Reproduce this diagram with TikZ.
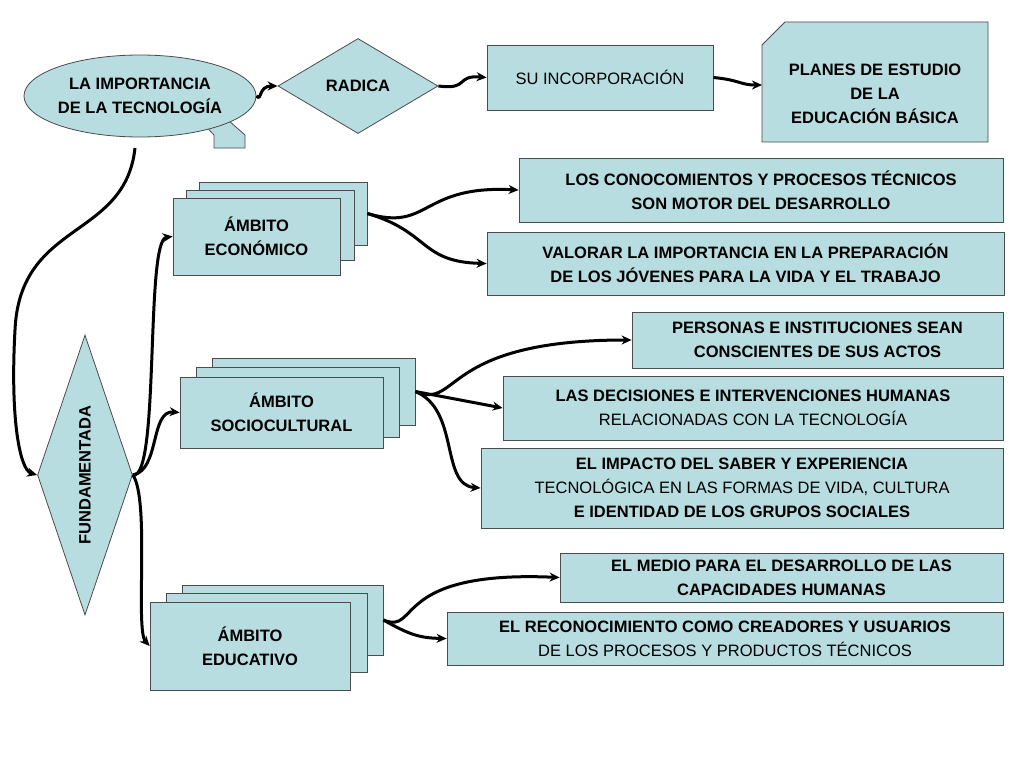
\documentclass[tikz,border=0pt]{standalone}
\usepackage{fontspec}
\setmainfont{Liberation Sans}
\usetikzlibrary{shapes.geometric,arrows.meta}
\definecolor{caja}{HTML}{B7DDE0}
\tikzset{
  caja/.style={draw=black!70,fill=caja,thick,align=center,font=\fontsize{16.5}{24}\selectfont\bfseries,inner sep=0pt},
  flecha/.style={line width=3pt,-{Stealth[length=10pt,width=9pt]}},
}
\newcommand{\rect}[6]{\node[caja,minimum width=#3-#2,minimum height=#5-#4] (#1) at ({(#2+#3)/2},{(#4+#5)/2}) {#6};}
\begin{document}
\begin{tikzpicture}[x=1pt,y=-1pt]
  \useasboundingbox[fill=white] (0,0) rectangle (1024,768);

  % titulo
  \path[caja] (200,120) -- (214,135) -- (214,148) -- (245,148) -- (245,135) -- (228,120) -- cycle;
  \node[caja,ellipse,minimum width=210,minimum height=82] (tec) at (140,96) {LA IMPORTANCIA\\DE LA TECNOLOGÍA};
  \node[caja,diamond,aspect=1.7,minimum width=160,minimum height=95] (radica) at (358,86) {RADICA};
  \rect{incorp}{487}{713}{45}{110}{\mdseries SU INCORPORACIÓN}
  \path[caja] (762,45) -- (785,22) -- (988,22) -- (988,142) -- (762,142) -- cycle;
  \node[align=center,font=\fontsize{16.5}{24}\selectfont\bfseries] (planes) at (875,94) {PLANES DE ESTUDIO\\DE LA\\EDUCACIÓN BÁSICA};
  \coordinate (planesw) at (762,85);

  \node[caja,diamond,aspect=0.34,minimum width=95,minimum height=280] (fund) at (85,475) {};
  \node[rotate=90,font=\fontsize{16.5}{24}\selectfont\bfseries] at (fund) {FUNDAMENTADA};

  % ambitos
  \rect{eco3}{199}{367}{182}{245}{}
  \rect{eco2}{186}{354}{190}{260}{}
  \rect{eco}{173}{340}{198}{275}{ÁMBITO\\ECONÓMICO}
  \rect{soc3}{212}{415}{358}{425}{}
  \rect{soc2}{196}{399}{367}{437}{}
  \rect{soc}{180}{383}{377}{448}{ÁMBITO\\SOCIOCULTURAL}
  \rect{edu3}{182}{383}{585}{655}{}
  \rect{edu2}{166}{367}{593}{672}{}
  \rect{edu}{150}{350}{602}{690}{ÁMBITO\\EDUCATIVO}

  % cajas derecha
  \rect{con}{519}{1003}{158}{222}{LOS CONOCOMIENTOS Y PROCESOS TÉCNICOS\\SON MOTOR DEL DESARROLLO}
  \rect{val}{487}{1004}{232}{295}{VALORAR LA IMPORTANCIA EN LA PREPARACIÓN\\DE LOS JÓVENES PARA LA VIDA Y EL TRABAJO}
  \rect{per}{632}{1003}{312}{368}{PERSONAS E INSTITUCIONES SEAN\\CONSCIENTES DE SUS ACTOS}
  \rect{dec}{503}{1003}{376}{440}{LAS DECISIONES E INTERVENCIONES HUMANAS\\\mdseries RELACIONADAS CON LA TECNOLOGÍA}
  \rect{imp}{481}{1003}{448}{528}{EL IMPACTO DEL SABER Y EXPERIENCIA\\\mdseries TECNOLÓGICA EN LAS FORMAS DE VIDA, CULTURA\\E IDENTIDAD DE LOS GRUPOS SOCIALES}
  \rect{med}{560}{1003}{553}{602}{EL MEDIO PARA EL DESARROLLO DE LAS\\CAPACIDADES HUMANAS}
  \rect{rec}{447}{1003}{612}{665}{EL RECONOCIMIENTO COMO CREADORES Y USUARIOS\\\mdseries DE LOS PROCESOS Y PRODUCTOS TÉCNICOS}

  % conectores
  \draw[flecha] (tec.east) .. controls (262,102) and (258,86) .. (radica.west);
  \draw[flecha] (radica.east) .. controls (470,90) and (455,75) .. (incorp.west);
  \draw[flecha] (incorp.east) .. controls (740,80) and (740,85) .. (planesw);
  \draw[flecha] (135,148) .. controls (125,240) and (20,220) .. (15,330) .. controls (10,420) and (20,470) .. (fund.west);
  \draw[flecha] (fund.east) .. controls (160,480) and (145,240) .. (eco.west);
  \draw[flecha] (fund.east) .. controls (160,470) and (150,410) .. (soc.west);
  \draw[flecha] (fund.east) .. controls (150,500) and (135,630) .. (edu.west);
  \draw[flecha] (eco3.east) .. controls (430,232) and (420,185) .. (con.west);
  \draw[flecha] (eco3.east) .. controls (430,232) and (420,262) .. (val.west);
  \draw[flecha] (soc3.east) .. controls (460,410) and (440,340) .. (per.west);
  \draw[flecha] (soc3.east) -- (dec.west);
  \draw[flecha] (soc3.east) .. controls (460,410) and (440,485) .. (imp.west);
  \draw[flecha] (edu3.east) .. controls (420,635) and (390,570) .. (med.west);
  \draw[flecha] (edu3.east) .. controls (410,635) and (420,638) .. (rec.west);
\end{tikzpicture}
\end{document}
